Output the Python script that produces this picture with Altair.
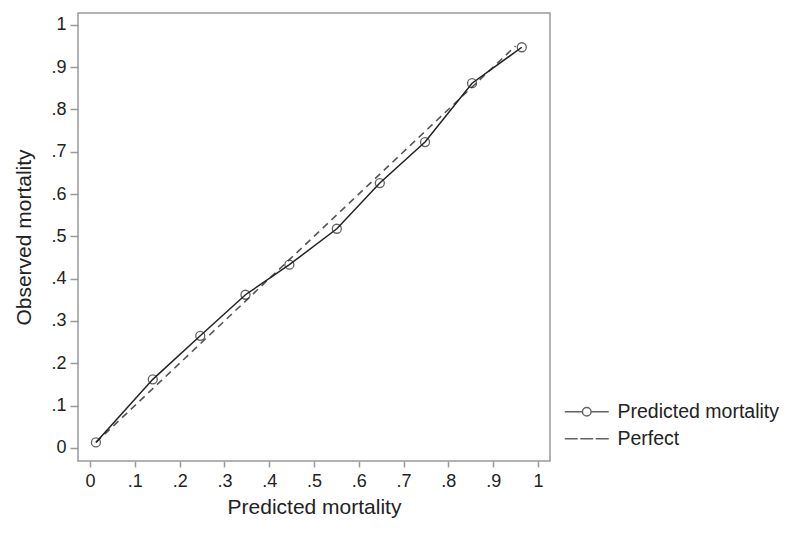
import altair as alt
import pandas as pd

pred = [0.013, 0.140, 0.246, 0.347, 0.445, 0.551, 0.647, 0.748, 0.853, 0.964]
obs = [0.013, 0.162, 0.265, 0.362, 0.433, 0.518, 0.626, 0.723, 0.862, 0.947]
perfect_x = [0.013, 0.95]
series = ["Predicted mortality", "Perfect"]
ticks = [0, 0.1, 0.2, 0.3, 0.4, 0.5, 0.6, 0.7, 0.8, 0.9, 1.0]

df_obs = pd.DataFrame({"x": pred, "y": obs, "series": series[0]})
df_perf = pd.DataFrame({"x": perfect_x, "y": perfect_x, "series": series[1]})

lab = "datum.value == 0 ? '0' : datum.value == 1 ? '1' : replace(format(datum.value, '.1f'), '0.', '.')"
FONT = "Liberation Sans"
TXT = "#222"

xs = alt.Scale(domain=[-0.027, 1.027], nice=False, zero=False)
ys = alt.Scale(domain=[-0.031, 1.028], nice=False, zero=False)

xax = alt.Axis(values=ticks, labelExpr=lab, title="Predicted mortality", grid=False, domain=False,
               tickColor="#999", tickSize=6, tickWidth=1.5, labelPadding=5, labelFontSize=18,
               labelColor=TXT, titleFontSize=21, titleColor=TXT, titleFontWeight="normal",
               titlePadding=6, labelFont=FONT, titleFont=FONT)
yax = alt.Axis(values=ticks, labelExpr=lab, title="Observed mortality", grid=False, domain=False,
               tickColor="#999", tickSize=8, tickWidth=1.5, labelPadding=4, labelFontSize=18,
               labelColor=TXT, titleFontSize=21, titleColor=TXT, titleFontWeight="normal",
               titlePadding=16, labelFont=FONT, titleFont=FONT)

perf = alt.Chart(df_perf).mark_line(color="#555", strokeDash=[7, 5], strokeWidth=1.6).encode(
    x=alt.X("x:Q", scale=xs, axis=xax), y=alt.Y("y:Q", scale=ys, axis=yax))

line = alt.Chart(df_obs).mark_line(color="#222", strokeWidth=1.5).encode(
    x=alt.X("x:Q", scale=xs), y=alt.Y("y:Q", scale=ys))

pts = alt.Chart(df_obs).mark_point(shape="circle", size=81, color="#222", filled=False, strokeWidth=1.3).encode(
    x=alt.X("x:Q", scale=xs), y=alt.Y("y:Q", scale=ys))

# legend symbols: unit = 7px (symbolSize 196 -> 14px box)
shape_solid = "M-3.143,0H-0.614M0.614,0H3.143M0.614,0A0.614,0.614,0,1,1,-0.614,0A0.614,0.614,0,1,1,0.614,0"
shape_dash = "M-3.143,0H-1.286M-0.929,0H0.929M1.286,0H3.143"

leg = alt.Chart(pd.concat([df_obs, df_perf])).transform_filter("false").mark_point(
    filled=False, color="#222", strokeWidth=1.4).encode(
    x=alt.X("x:Q", scale=xs), y=alt.Y("y:Q", scale=ys),
    shape=alt.Shape("series:N", scale=alt.Scale(domain=series, range=[shape_solid, shape_dash]),
                    legend=alt.Legend(title=None, orient="none", legendX=499, legendY=389,
                                      symbolSize=196, symbolStrokeColor="#222", symbolStrokeWidth=1.4,
                                      labelFontSize=19.5, labelColor=TXT, labelFont=FONT, labelLimit=0,
                                      rowPadding=6, labelOffset=21, symbolFillColor="transparent")))

chart = alt.layer(perf, line, pts, leg).properties(width=472, height=448, background="white").configure_view(
    stroke="#999", strokeWidth=1.5)

chart.save("out.html", embed_options={"renderer": "svg", "actions": False})
